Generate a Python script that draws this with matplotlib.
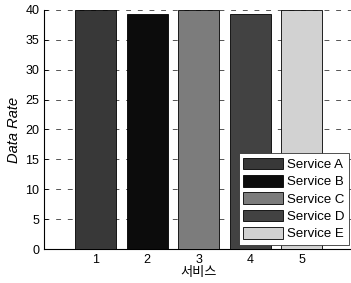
import matplotlib
matplotlib.use('Agg')
import matplotlib.pyplot as plt

services = ['Service A', 'Service B', 'Service C', 'Service D', 'Service E']
positions = [1, 2, 3, 4, 5]
rates = [40, 39.3, 40, 39.3, 40]
colors = ['#383838', '#0c0c0c', '#7c7c7c', '#424242', '#d2d2d2']
yticks = [0, 5, 10, 15, 20, 25, 30, 35, 40]

plt.rcParams['font.family'] = ['Liberation Sans', 'Noto Sans CJK KR', 'DejaVu Sans']

fig = plt.figure(figsize=(3.51, 2.83), dpi=100)
ax = fig.add_axes([0.126, 0.12, 0.88, 0.845])

for pos, rate, c, name in zip(positions, rates, colors, services):
    ax.bar(pos, rate, width=0.8, color=c, edgecolor='black', linewidth=0.6,
           label=name, zorder=3)

ax.set_xlim(0, 6)
ax.set_ylim(0, 40)
ax.set_xticks(positions)
ax.set_yticks(yticks)
ax.yaxis.grid(True, linestyle=(0, (5, 7)), color='#555555', linewidth=0.7, zorder=0)
ax.tick_params(direction='in', labelsize=9, length=3, width=0.6)
for s in ['left', 'bottom']:
    ax.spines[s].set_linewidth(0.8)
ax.spines['top'].set_visible(False)
ax.spines['right'].set_visible(False)

ax.set_ylabel('Data Rate', fontsize=10.5, style='italic', labelpad=3)
ax.set_xlabel('서비스', fontsize=9.5, family=['Noto Sans CJK KR'], labelpad=0)

leg = ax.legend(loc='lower right', fontsize=9.5, frameon=True, fancybox=False,
                borderpad=0.35, labelspacing=0.3, handlelength=3.0, handleheight=1.0,
                handletextpad=0.3, borderaxespad=0.3)
leg.get_frame().set_edgecolor('#333333')
leg.get_frame().set_linewidth(0.6)
leg.get_frame().set_alpha(1)

fig.savefig('out.png', dpi=100)
